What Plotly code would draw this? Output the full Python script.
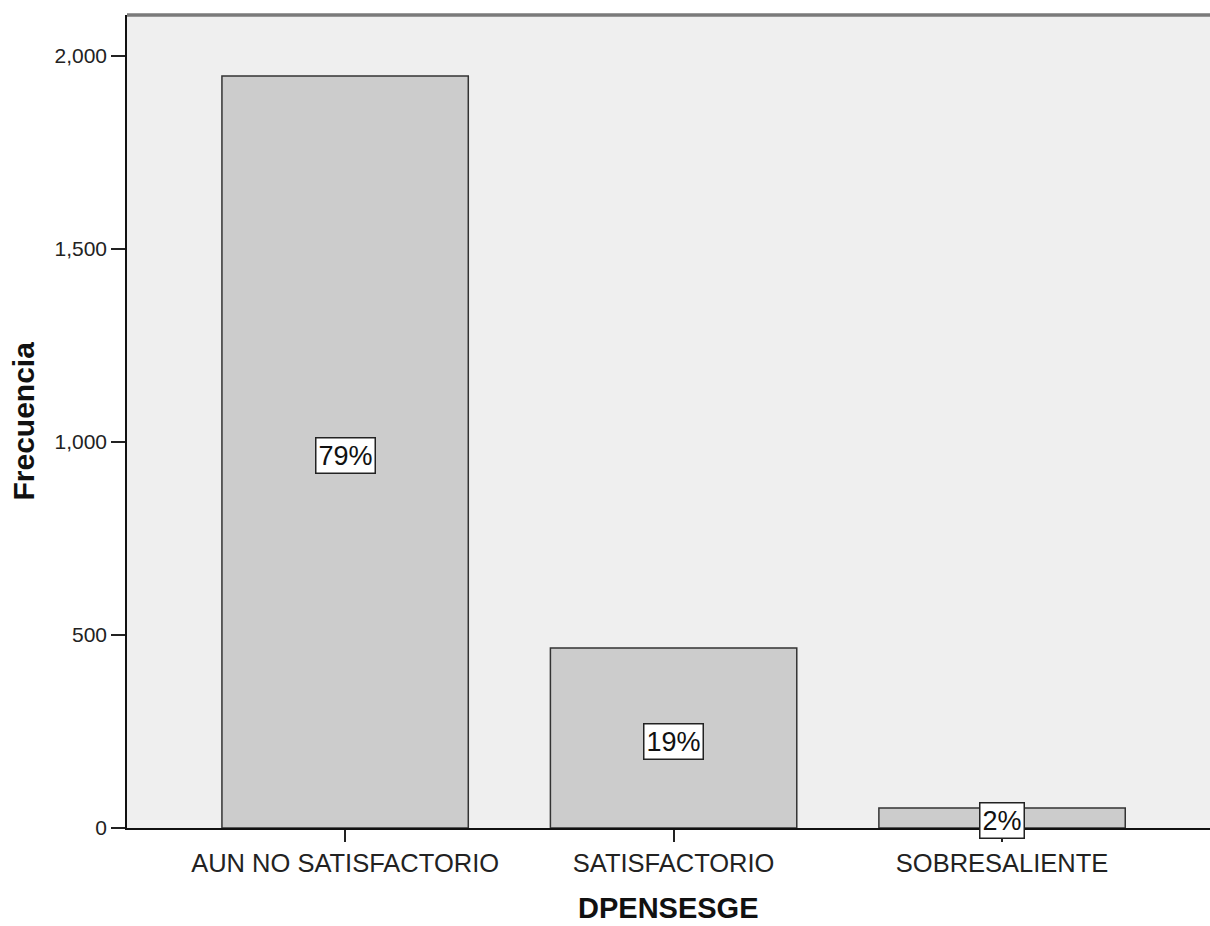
import plotly.graph_objects as go

categories = ["AUN NO SATISFACTORIO", "SATISFACTORIO", "SOBRESALIENTE"]
frequencies = [1948, 466, 52]
y_ticks = [0, 500, 1000, 1500, 2000]
x_title = "DPENSESGE"
y_title = "Frecuencia"

total = sum(frequencies)
pct_labels = [f"{round(v / total * 100)}%" for v in frequencies]

FONT = "Liberation Sans, Arial, sans-serif"

fig = go.Figure()
fig.add_trace(go.Bar(
    x=categories, y=frequencies, width=0.75,
    marker=dict(color="#CCCCCC", line=dict(color="#333333", width=1.5)),
    hoverinfo="skip",
))

for c, v, t in zip(categories, frequencies, pct_labels):
    fig.add_annotation(
        x=c, y=v / 2, text=t, showarrow=False, yshift=-3,
        font=dict(family=FONT, size=27, color="#111"),
        bgcolor="white", bordercolor="#222", borderwidth=1.5, borderpad=2,
    )

# axis titles
fig.add_annotation(
    xref="paper", yref="paper", x=0.5, y=-0.1205, xanchor="center", yanchor="bottom",
    text=f"<b>{x_title}</b>", showarrow=False,
    font=dict(family=FONT, size=29, color="#111"),
)
fig.add_annotation(
    xref="paper", yref="paper", x=-0.096, y=0.5, xanchor="center", yanchor="middle",
    text=f"<b>{y_title}</b>", showarrow=False, textangle=-90,
    font=dict(family=FONT, size=30, color="#111"),
)

fig.add_shape(type="line", xref="paper", yref="paper", x0=0, x1=1, y0=1, y1=1,
              line=dict(color="#7A7A7A", width=3.5))

fig.update_layout(
    width=1210, height=926,
    margin=dict(l=127, r=0, t=15, b=98),
    paper_bgcolor="white", plot_bgcolor="#EFEFEF",
    showlegend=False,
    font=dict(family=FONT, color="#222"),
    xaxis=dict(
        range=[-0.664, 2.633], showline=True, linecolor="#111", linewidth=1.5,
        ticks="outside", ticklen=12, tickcolor="#222", tickwidth=1.5,
        tickfont=dict(family=FONT, size=25.5, color="#222"), showgrid=False,
    ),
    yaxis=dict(
        range=[0, 2106], showline=True, linecolor="#111", linewidth=1.5,
        tickvals=y_ticks, tickformat=",", ticks="outside", ticklen=14,
        tickcolor="#222", tickwidth=1.5, tickfont=dict(family=FONT, size=21, color="#222"),
        showgrid=False, zeroline=False,
    ),
)

fig.write_html(
    "out.html",
    config={"displayModeBar": False},
    post_script="document.body.style.margin='0';document.body.style.overflow='hidden';",
)
